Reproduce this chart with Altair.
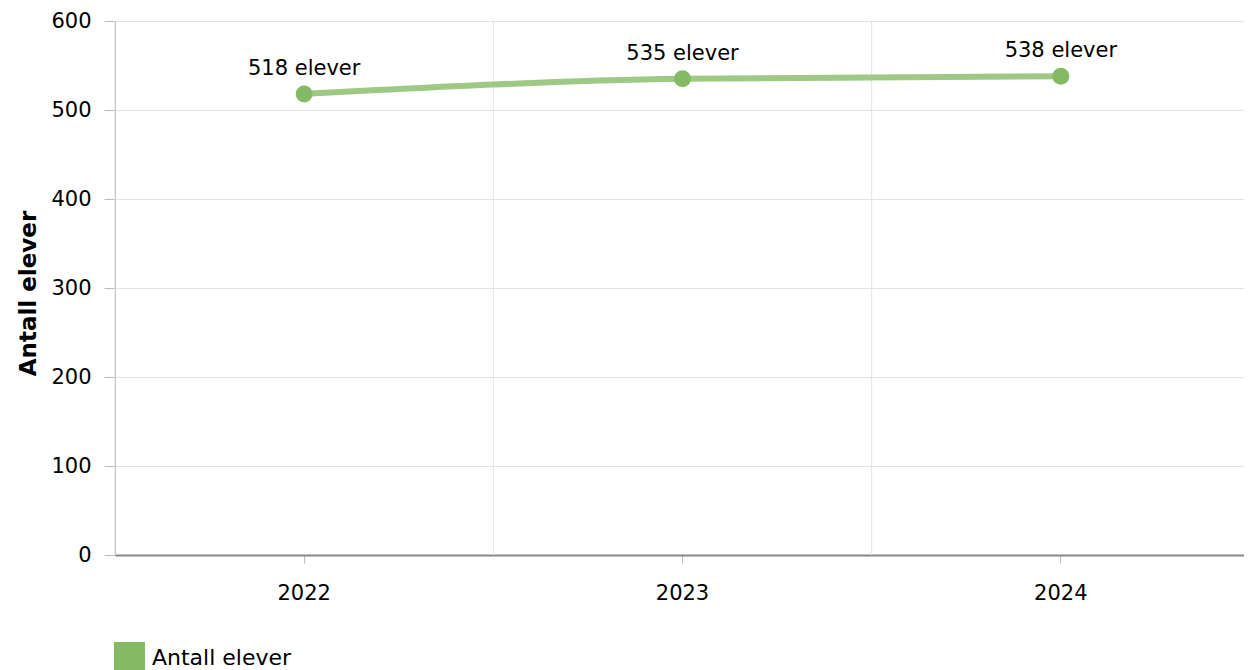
import altair as alt
import pandas as pd

years = ["2022", "2023", "2024"]
values = [518, 535, 538]
labels = ["518 elever", "535 elever", "538 elever"]
series = ["Antall elever", "Antall elever", "Antall elever"]

df = pd.DataFrame({"year": years, "value": values, "label": labels, "series": series})

FONT = "DejaVu Sans"
FS = 21
LINE_COLOR = "#9dc985"
POINT_COLOR = "#85b964"
GRID = "#e3e3e3"

xscale = alt.Scale(paddingInner=0, paddingOuter=0)
yscale = alt.Scale(domain=[0, 600], nice=False)

x_axis = alt.Axis(title=None, grid=False, labelAngle=0, labelFontSize=FS, labelFont=FONT,
                  labelFontWeight="normal", labelColor="#000000", labelPadding=19,
                  tickSize=8, tickColor="#bbbbbb", domainColor="#888888", domainWidth=2)
x_main = alt.X("year:N", scale=xscale, axis=x_axis)

y_enc = alt.Y(
    "value:Q", scale=yscale,
    axis=alt.Axis(title="Antall elever", values=[0, 100, 200, 300, 400, 500, 600],
                  labelFontSize=FS, labelFont=FONT, labelColor="#000000", labelPadding=13,
                  tickSize=11, tickColor="#bbbbbb", domainColor="#a0a0a0",
                  grid=True, gridColor=GRID, titleFontSize=23, titleFont=FONT,
                  titleFontWeight="bold", titleColor="#000000",
                  titleX=-87, titleY=272, titleAngle=-90, titleAlign="center",
                  titleBaseline="middle"),
)

vgrid = alt.Chart(df).mark_rule(color=GRID, strokeWidth=1).encode(
    x=alt.X("year:N", scale=xscale, bandPosition=0, axis=x_axis)
)

line = alt.Chart(df).mark_line(color=LINE_COLOR, strokeWidth=6, interpolate="monotone").encode(
    x=x_main, y=y_enc
)
points = alt.Chart(df).mark_circle(size=289, opacity=1).encode(
    x=x_main, y=alt.Y("value:Q", scale=yscale),
    color=alt.Color("series:N", scale=alt.Scale(range=[POINT_COLOR]),
                    legend=alt.Legend(title=None, orient="none", legendX=-1, legendY=621,
                                      symbolType="square", symbolSize=961,
                                      symbolStrokeWidth=0, labelFontSize=22, labelFont=FONT,
                                      labelColor="#000000", labelOffset=7)),
)
text = alt.Chart(df).mark_text(fontSize=FS, font=FONT, color="#000000", baseline="alphabetic",
                               dy=-19).encode(
    x=x_main, y=alt.Y("value:Q", scale=yscale), text="label:N"
)

chart = alt.layer(vgrid, line, points, text).properties(
    width=1135, height=534,
    autosize=alt.AutoSizeParams(type="none"),
    padding={"left": 107, "top": 13, "right": -6, "bottom": 115},
).configure_view(stroke=GRID).configure(background="white")

chart.save("out.html", embed_options={"renderer": "svg", "actions": False})
